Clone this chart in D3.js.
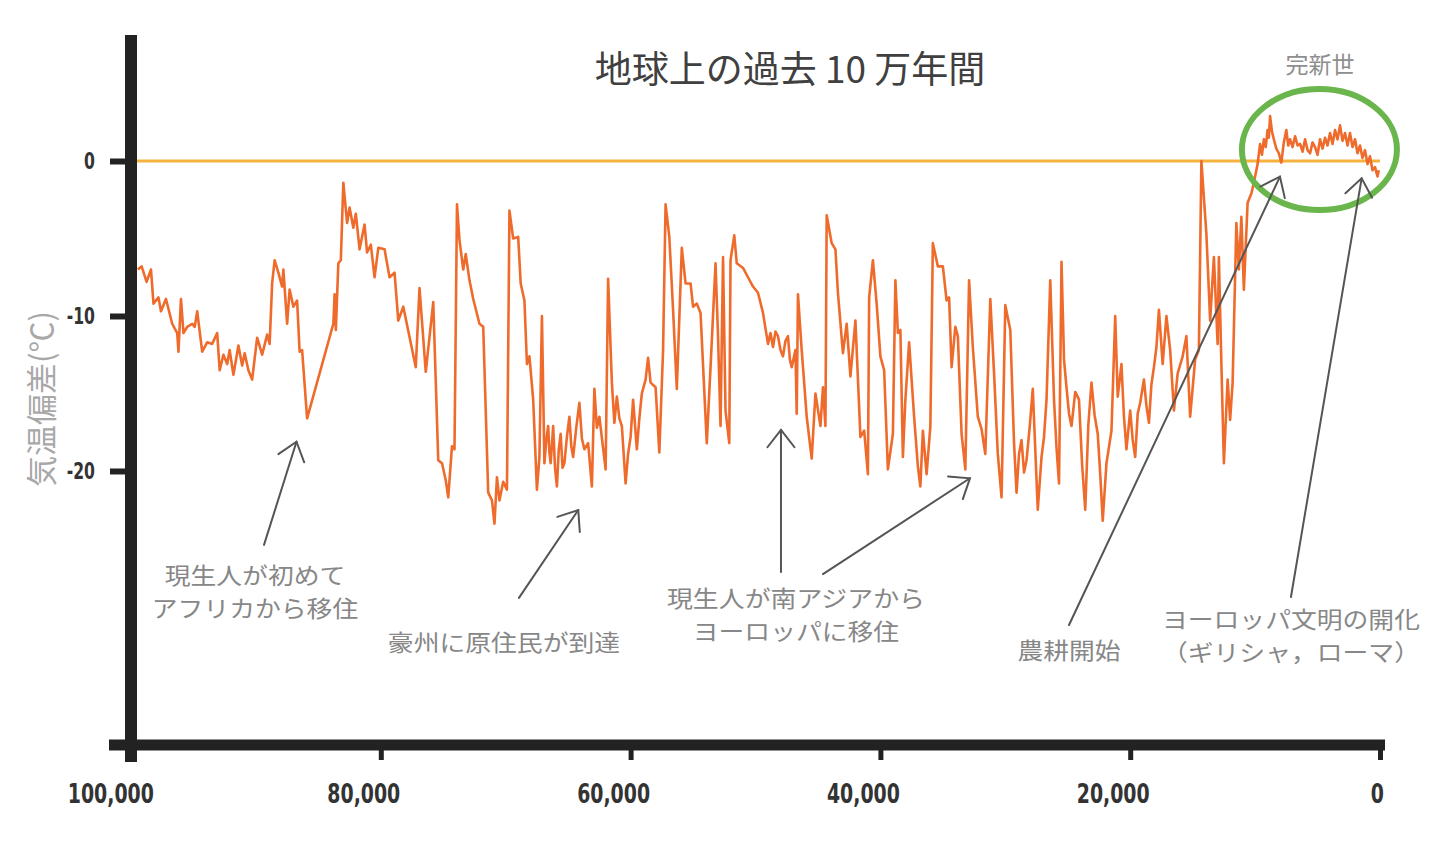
<!DOCTYPE html>
<html>
<head>
<meta charset="utf-8">
<script src="https://cdn.jsdelivr.net/npm/d3@7"></script>
<style>
  body { margin: 0; background: #fff; }
</style>
</head>
<body>
<div id="chart"></div>
<script>
// age in thousands of years before present, temperature anomaly in degC
var tempRecord = [
  [99.45,-7.0],[99.15,-6.8],[98.75,-7.8],[98.4,-7.0],[98.2,-9.2],[97.8,-8.8],[97.6,-9.7],[97.2,-8.9],
  [96.7,-10.5],[96.3,-11.1],[96.2,-12.3],[96.0,-8.9],[95.8,-11.1],[95.5,-10.7],[95.1,-10.5],[94.9,-10.7],
  [94.7,-9.7],[94.3,-12.3],[93.9,-11.7],[93.5,-11.8],[93.1,-11.1],[92.9,-13.5],[92.6,-12.5],[92.3,-13.1],
  [92.1,-12.2],[91.8,-13.8],[91.4,-11.9],[91.1,-13.2],[90.9,-12.4],[90.6,-13.5],[90.3,-14.1],[89.9,-11.4],
  [89.5,-12.5],[89.1,-11.2],[88.9,-11.8],[88.7,-7.9],[88.5,-6.4],[88.2,-7.2],[87.9,-8.1],[87.8,-7.0],
  [87.5,-10.5],[87.3,-8.3],[87.0,-9.4],[86.7,-9.0],[86.5,-12.3],[86.3,-12.2],[85.9,-16.6],[83.8,-10.5],
  [83.7,-8.6],[83.6,-10.9],[83.4,-6.6],[83.2,-6.4],[83.0,-1.4],[82.7,-4.0],[82.5,-3.0],[82.2,-4.3],
  [82.0,-3.4],[81.7,-5.7],[81.3,-4.1],[81.1,-5.9],[80.8,-5.4],[80.5,-7.5],[80.2,-5.6],[79.7,-5.7],
  [79.3,-7.5],[78.9,-7.2],[78.6,-10.3],[78.2,-9.4],[77.2,-13.3],[76.9,-8.2],[76.4,-13.6],[75.8,-9.1],
  [75.4,-19.3],[75.1,-19.5],[74.8,-20.6],[74.6,-21.7],[74.3,-18.4],[74.1,-18.6],[73.9,-2.8],[73.7,-5.1],
  [73.4,-7.0],[73.2,-6.0],[72.9,-7.7],[72.6,-8.9],[72.1,-10.5],[71.8,-10.7],[71.4,-21.4],[71.1,-21.9],
  [70.9,-23.4],[70.7,-20.4],[70.5,-21.9],[70.2,-20.7],[69.9,-21.2],[69.7,-3.2],[69.4,-5.0],[69.0,-4.9],
  [68.8,-7.9],[68.5,-9.0],[68.3,-13.1],[68.1,-12.6],[67.8,-15.4],[67.5,-21.2],[67.3,-19.1],[67.1,-10.0],
  [66.9,-19.5],[66.75,-18.0],[66.6,-17.1],[66.5,-18.8],[66.4,-19.5],[66.2,-17.1],[66.05,-19.8],[65.9,-21.0],
  [65.75,-18.6],[65.6,-17.6],[65.45,-19.8],[65.3,-19.5],[65.1,-17.8],[64.9,-16.5],[64.75,-18.4],[64.6,-19.1],
  [64.35,-17.2],[64.1,-15.6],[63.9,-17.9],[63.7,-18.6],[63.4,-18.2],[63.1,-21.0],[62.9,-14.7],[62.7,-17.2],
  [62.5,-16.5],[62.0,-19.9],[61.8,-7.6],[61.5,-14.3],[61.3,-16.9],[61.1,-15.2],[60.9,-16.6],[60.7,-17.1],
  [60.4,-20.8],[60.2,-18.9],[60.0,-17.8],[59.8,-15.4],[59.5,-18.6],[59.3,-16.6],[59.1,-15.0],[58.8,-14.1],
  [58.6,-12.7],[58.4,-14.3],[58.0,-14.6],[57.7,-18.8],[57.4,-12.2],
  [57.2,-2.8],[56.9,-4.9],[56.6,-9.6],[56.3,-14.7],[55.9,-5.6],[55.6,-7.9],[55.2,-7.9],[55.0,-9.4],
  [54.7,-9.2],[54.4,-9.8],[53.9,-18.2],[53.6,-13.3],[53.2,-6.6],[53.0,-11.3],[52.8,-17.1],[52.6,-6.2],
  [52.4,-16.1],[52.1,-18.2],[52.0,-6.4],[51.7,-4.8],[51.5,-6.6],[51.0,-6.9],[50.6,-7.5],[50.2,-8.1],
  [49.8,-8.5],[49.4,-9.8],[49.0,-11.8],[48.8,-11.1],[48.6,-12.0],[48.4,-11.0],[48.2,-11.3],[48.0,-12.2],
  [47.8,-12.6],[47.6,-11.6],[47.4,-11.3],[47.25,-12.8],[47.1,-13.3],
  [46.8,-12.2],[46.7,-16.3],[46.6,-8.6],[46.3,-12.2],[45.9,-16.5],[45.5,-19.2],[45.2,-15.0],[44.8,-17.1],
  [44.6,-14.6],[44.4,-17.1],[44.3,-3.5],[43.9,-5.3],[43.6,-5.7],[43.4,-8.5],[43.0,-12.4],[42.7,-10.5],
  [42.4,-13.9],[42.0,-10.3],[41.6,-17.8],[41.3,-17.4],[41.0,-20.2],[40.9,-8.8],[40.6,-6.4],[40.3,-9.2],
  [40.0,-12.6],[39.7,-13.5],[39.4,-19.9],[39.0,-17.6],[38.8,-7.7],[38.6,-11.1],[38.4,-10.9],[38.2,-19.1],
  [38.0,-15.4],[37.7,-11.7],[37.3,-16.5],[37.0,-19.7],[36.8,-21.0],[36.6,-17.4],[36.3,-20.2],[36.0,-17.1],
  [35.8,-5.3],[35.4,-6.8],[35.0,-6.8],[34.7,-9.0],[34.5,-8.8],[34.3,-13.3],[34.0,-10.7],[33.8,-11.3],
  [33.5,-17.6],[33.2,-19.9],[32.9,-7.7],[32.6,-12.0],[32.2,-16.5],[31.9,-17.3],[31.6,-18.9],[31.2,-8.9],
  [30.9,-13.7],[30.6,-18.9],[30.3,-21.7],[30.0,-9.3],[29.6,-10.9],[29.3,-18.2],[29.1,-21.4],[28.9,-18.9],
  [28.7,-18.0],[28.5,-20.1],[28.3,-19.3],[28.05,-17.2],[27.8,-14.7],[27.4,-22.5],[27.1,-19.1],[26.9,-17.8],
  [26.7,-15.4],[26.4,-7.7],[26.1,-15.4],[25.9,-18.5],[25.7,-20.8],[25.5,-6.5],[25.3,-12.8],[25.1,-14.6],
  [24.9,-16.3],[24.7,-17.1],[24.4,-14.9],[24.1,-15.4],[23.85,-19.6],[23.6,-22.5],[23.35,-17.0],[23.1,-14.3],
  [22.85,-16.4],[22.6,-17.6],[22.4,-20.2],[22.2,-23.2],[21.9,-19.5],
  [21.5,-17.4],[21.2,-10.0],[21.0,-15.2],[20.7,-13.1],[20.5,-16.5],[20.3,-18.6],[20.0,-16.1],[19.8,-18.0],
  [19.6,-19.1],[19.4,-16.3],[19.2,-15.6],[18.9,-14.1],[18.7,-15.8],[18.5,-16.9],[18.3,-14.4],[18.1,-13.3],
  [17.9,-12.0],[17.7,-9.6],[17.4,-13.1],[17.1,-10.0],[16.8,-12.2],[16.5,-16.1],
  [16.2,-13.7],[15.8,-12.6],[15.5,-11.3],[15.2,-16.5],[14.8,-12.8],[14.5,-12.2],[14.3,0.0],[13.9,-4.7],
  [13.6,-10.3],[13.3,-6.2],[13.0,-11.8],[12.9,-6.2],[12.7,-13.1],[12.5,-19.5],[12.2,-14.1],[12.0,-16.7],
  [11.8,-14.3],[11.5,-4.0],[11.3,-7.0],[11.1,-3.6],[10.9,-8.3],[10.6,-2.7],[10.3,-2.1],[10.1,-1.4],
  [9.8,-0.2],[9.6,1.1],[9.45,0.4],[9.3,1.4],[9.15,0.9],[9.0,2.0],[8.9,1.5],[8.8,2.9],
  [8.65,1.9],[8.5,1.4],[8.3,0.8],[8.1,0.5],[7.9,-0.1],[7.7,1.2],[7.5,2.0],[7.35,1.0],
  [7.2,1.4],[7.0,0.9],[6.8,1.6],[6.6,1.0],[6.4,1.1],[6.2,0.6],[6.0,1.4],[5.8,0.7],
  [5.6,0.5],[5.4,1.2],[5.2,0.9],[5.0,0.4],[4.8,1.4],[4.6,0.8],[4.4,1.5],[4.2,1.0],
  [4.0,1.8],[3.8,1.1],[3.6,2.0],[3.4,1.4],[3.2,2.3],[3.0,1.3],[2.8,1.8],[2.6,1.0],
  [2.4,1.8],[2.2,0.9],[2.0,1.4],[1.8,0.5],[1.6,1.0],[1.4,0.2],[1.2,0.7],[1.0,-0.2],
  [0.8,0.3],[0.6,-0.6],[0.4,-0.4],[0.2,-1.0],[0.1,-0.6]
];

var xTicks = [100, 80, 60, 40, 20, 0];
var xTickLabels = ["100,000", "80,000", "60,000", "40,000", "20,000", "0"];
var yTicks = [0, -10, -20];
var yTickLabels = ["0", "-10", "-20"];

var titleText = "地球上の過去 10 万年間";
var yLabelText = "気温偏差(℃)";
var holoceneText = "完新世";
var noteTexts = [
  ["現生人が初めて", "アフリカから移住"],
  ["豪州に原住民が到達"],
  ["現生人が南アジアから", "ヨーロッパに移住"],
  ["農耕開始"],
  ["ヨーロッパ文明の開化", "（ギリシャ，ローマ）"]
];

// layout (in data units: ka, degC)
var noteAnchors = [[90.07, -27.3], [70.14, -31.6], [46.76, -28.8], [24.9, -32.1], [7.13, -30.1]];
var arrows = [
  [89.35, -24.77, 86.75, -18.11],
  [68.94, -28.19, 64.19, -22.52],
  [47.96, -26.52, 47.96, -17.35],
  [44.60, -26.65, 32.83, -20.47],
  [24.90, -29.94, 8.01, -1.01],
  [7.13, -28.13, 1.47, -1.12]
];

var width = 1440, height = 861;

var svg = d3.select("#chart").append("svg")
  .attr("width", width)
  .attr("height", height);

var x = d3.scaleLinear().domain([100, 0]).range([131, 1380]);
var y = d3.scaleLinear().domain([8.13, -37.68]).range([35, 745]);

var cjk = "'Noto Sans CJK JP', 'Noto Sans', sans-serif";
var numFont = "'DejaVu Sans', 'Liberation Sans', sans-serif";

// squeeze the bold numerals into a narrow face like the original
function narrowText(sel, k) {
  sel.each(function() {
    var w = this.getComputedTextLength();
    d3.select(this)
      .attr("textLength", w * k)
      .attr("lengthAdjust", "spacingAndGlyphs");
  });
}

// zero reference line
svg.append("line")
  .attr("x1", x(100) + 6).attr("x2", x(0))
  .attr("y1", y(0)).attr("y2", y(0))
  .attr("stroke", "#f6b13f")
  .attr("stroke-width", 3);

// temperature curve
svg.append("path")
  .datum(tempRecord)
  .attr("fill", "none")
  .attr("stroke", "#ef6b2c")
  .attr("stroke-width", 2.6)
  .attr("stroke-linejoin", "round")
  .attr("d", d3.line()
    .x(function(d) { return x(d[0]); })
    .y(function(d) { return y(d[1]); }));

// holocene ring
svg.append("ellipse")
  .attr("cx", x(4.85)).attr("cy", y(0.74))
  .attr("rx", 77.5).attr("ry", 60.5)
  .attr("fill", "none")
  .attr("stroke", "#6ab64d")
  .attr("stroke-width", 6);

svg.append("text")
  .attr("x", x(4.8)).attr("y", y(5.68))
  .attr("text-anchor", "middle")
  .attr("font-family", cjk)
  .attr("font-size", 23)
  .attr("fill", "#8e8e8e")
  .text(holoceneText);

// arrows
var arrowG = svg.append("g")
  .attr("stroke", "#555")
  .attr("stroke-width", 2)
  .attr("stroke-linecap", "round")
  .attr("fill", "none");

arrows.forEach(function(a) {
  var x1 = x(a[0]), y1 = y(a[1]), x2 = x(a[2]), y2 = y(a[3]);
  var ang = Math.atan2(y1 - y2, x1 - x2);
  var hl = 22, spread = 38 * Math.PI / 180;
  arrowG.append("line")
    .attr("x1", x1).attr("y1", y1).attr("x2", x2).attr("y2", y2);
  arrowG.append("path")
    .attr("d", "M" + (x2 + hl * Math.cos(ang - spread)) + "," + (y2 + hl * Math.sin(ang - spread)) +
      "L" + x2 + "," + y2 +
      "L" + (x2 + hl * Math.cos(ang + spread)) + "," + (y2 + hl * Math.sin(ang + spread)));
});

// annotation texts, one text element per line
var notes = svg.append("g")
  .attr("font-family", cjk)
  .attr("font-size", 23)
  .attr("fill", "#878787")
  .attr("text-anchor", "middle");

noteTexts.forEach(function(lines, i) {
  lines.forEach(function(line, j) {
    notes.append("text")
      .attr("x", x(noteAnchors[i][0]))
      .attr("y", y(noteAnchors[i][1]) + j * 33)
      .attr("textLength", line.length * 25.8)
      .attr("lengthAdjust", "spacingAndGlyphs")
      .text(line);
  });
});

// title
svg.append("text")
  .attr("x", 790).attr("y", 83)
  .attr("text-anchor", "middle")
  .attr("font-family", cjk)
  .attr("font-size", 37)
  .attr("fill", "#404040")
  .text(titleText);

// y label
svg.append("text")
  .attr("transform", "translate(53,399) rotate(-90)")
  .attr("text-anchor", "middle")
  .attr("font-family", cjk)
  .attr("font-size", 31)
  .attr("fill", "#a8a8a8")
  .text(yLabelText);

// axes
var yAxis = svg.append("g")
  .attr("transform", "translate(125,0)")
  .call(d3.axisLeft(y).tickValues(yTicks).tickSize(15).tickPadding(15)
    .tickFormat(function(d, i) { return yTickLabels[i]; }));
yAxis.select(".domain").remove();
yAxis.selectAll("line").attr("stroke", "#222").attr("stroke-width", 6);
yAxis.selectAll("text")
  .attr("font-family", numFont)
  .attr("font-weight", "bold")
  .attr("font-size", 23)
  .attr("fill", "#333")
  .call(narrowText, 0.68);

var xAxis = svg.append("g")
  .attr("transform", "translate(0,745)")
  .call(d3.axisBottom(x).tickValues(xTicks).tickSize(15)
    .tickFormat(function(d, i) { return xTickLabels[i]; }));
xAxis.select(".domain").remove();
xAxis.selectAll("line").attr("stroke", "#222").attr("stroke-width", 5);
xAxis.selectAll("text")
  .attr("y", 58).attr("dy", 0)
  .attr("font-family", numFont)
  .attr("font-weight", "bold")
  .attr("font-size", 27)
  .attr("fill", "#333")
  .call(narrowText, 0.7)
  .each(function() {
    var w = +d3.select(this).attr("textLength");
    d3.select(this).attr("dx", -0.24 * w);
  });

// spines
svg.append("line")
  .attr("x1", x(100)).attr("x2", x(100))
  .attr("y1", y(8.13)).attr("y2", y(-37.68) + 17)
  .attr("stroke", "#222").attr("stroke-width", 12);
svg.append("line")
  .attr("x1", 109).attr("x2", 1385)
  .attr("y1", y(-37.68)).attr("y2", y(-37.68))
  .attr("stroke", "#222").attr("stroke-width", 11);
</script>
</body>
</html>
